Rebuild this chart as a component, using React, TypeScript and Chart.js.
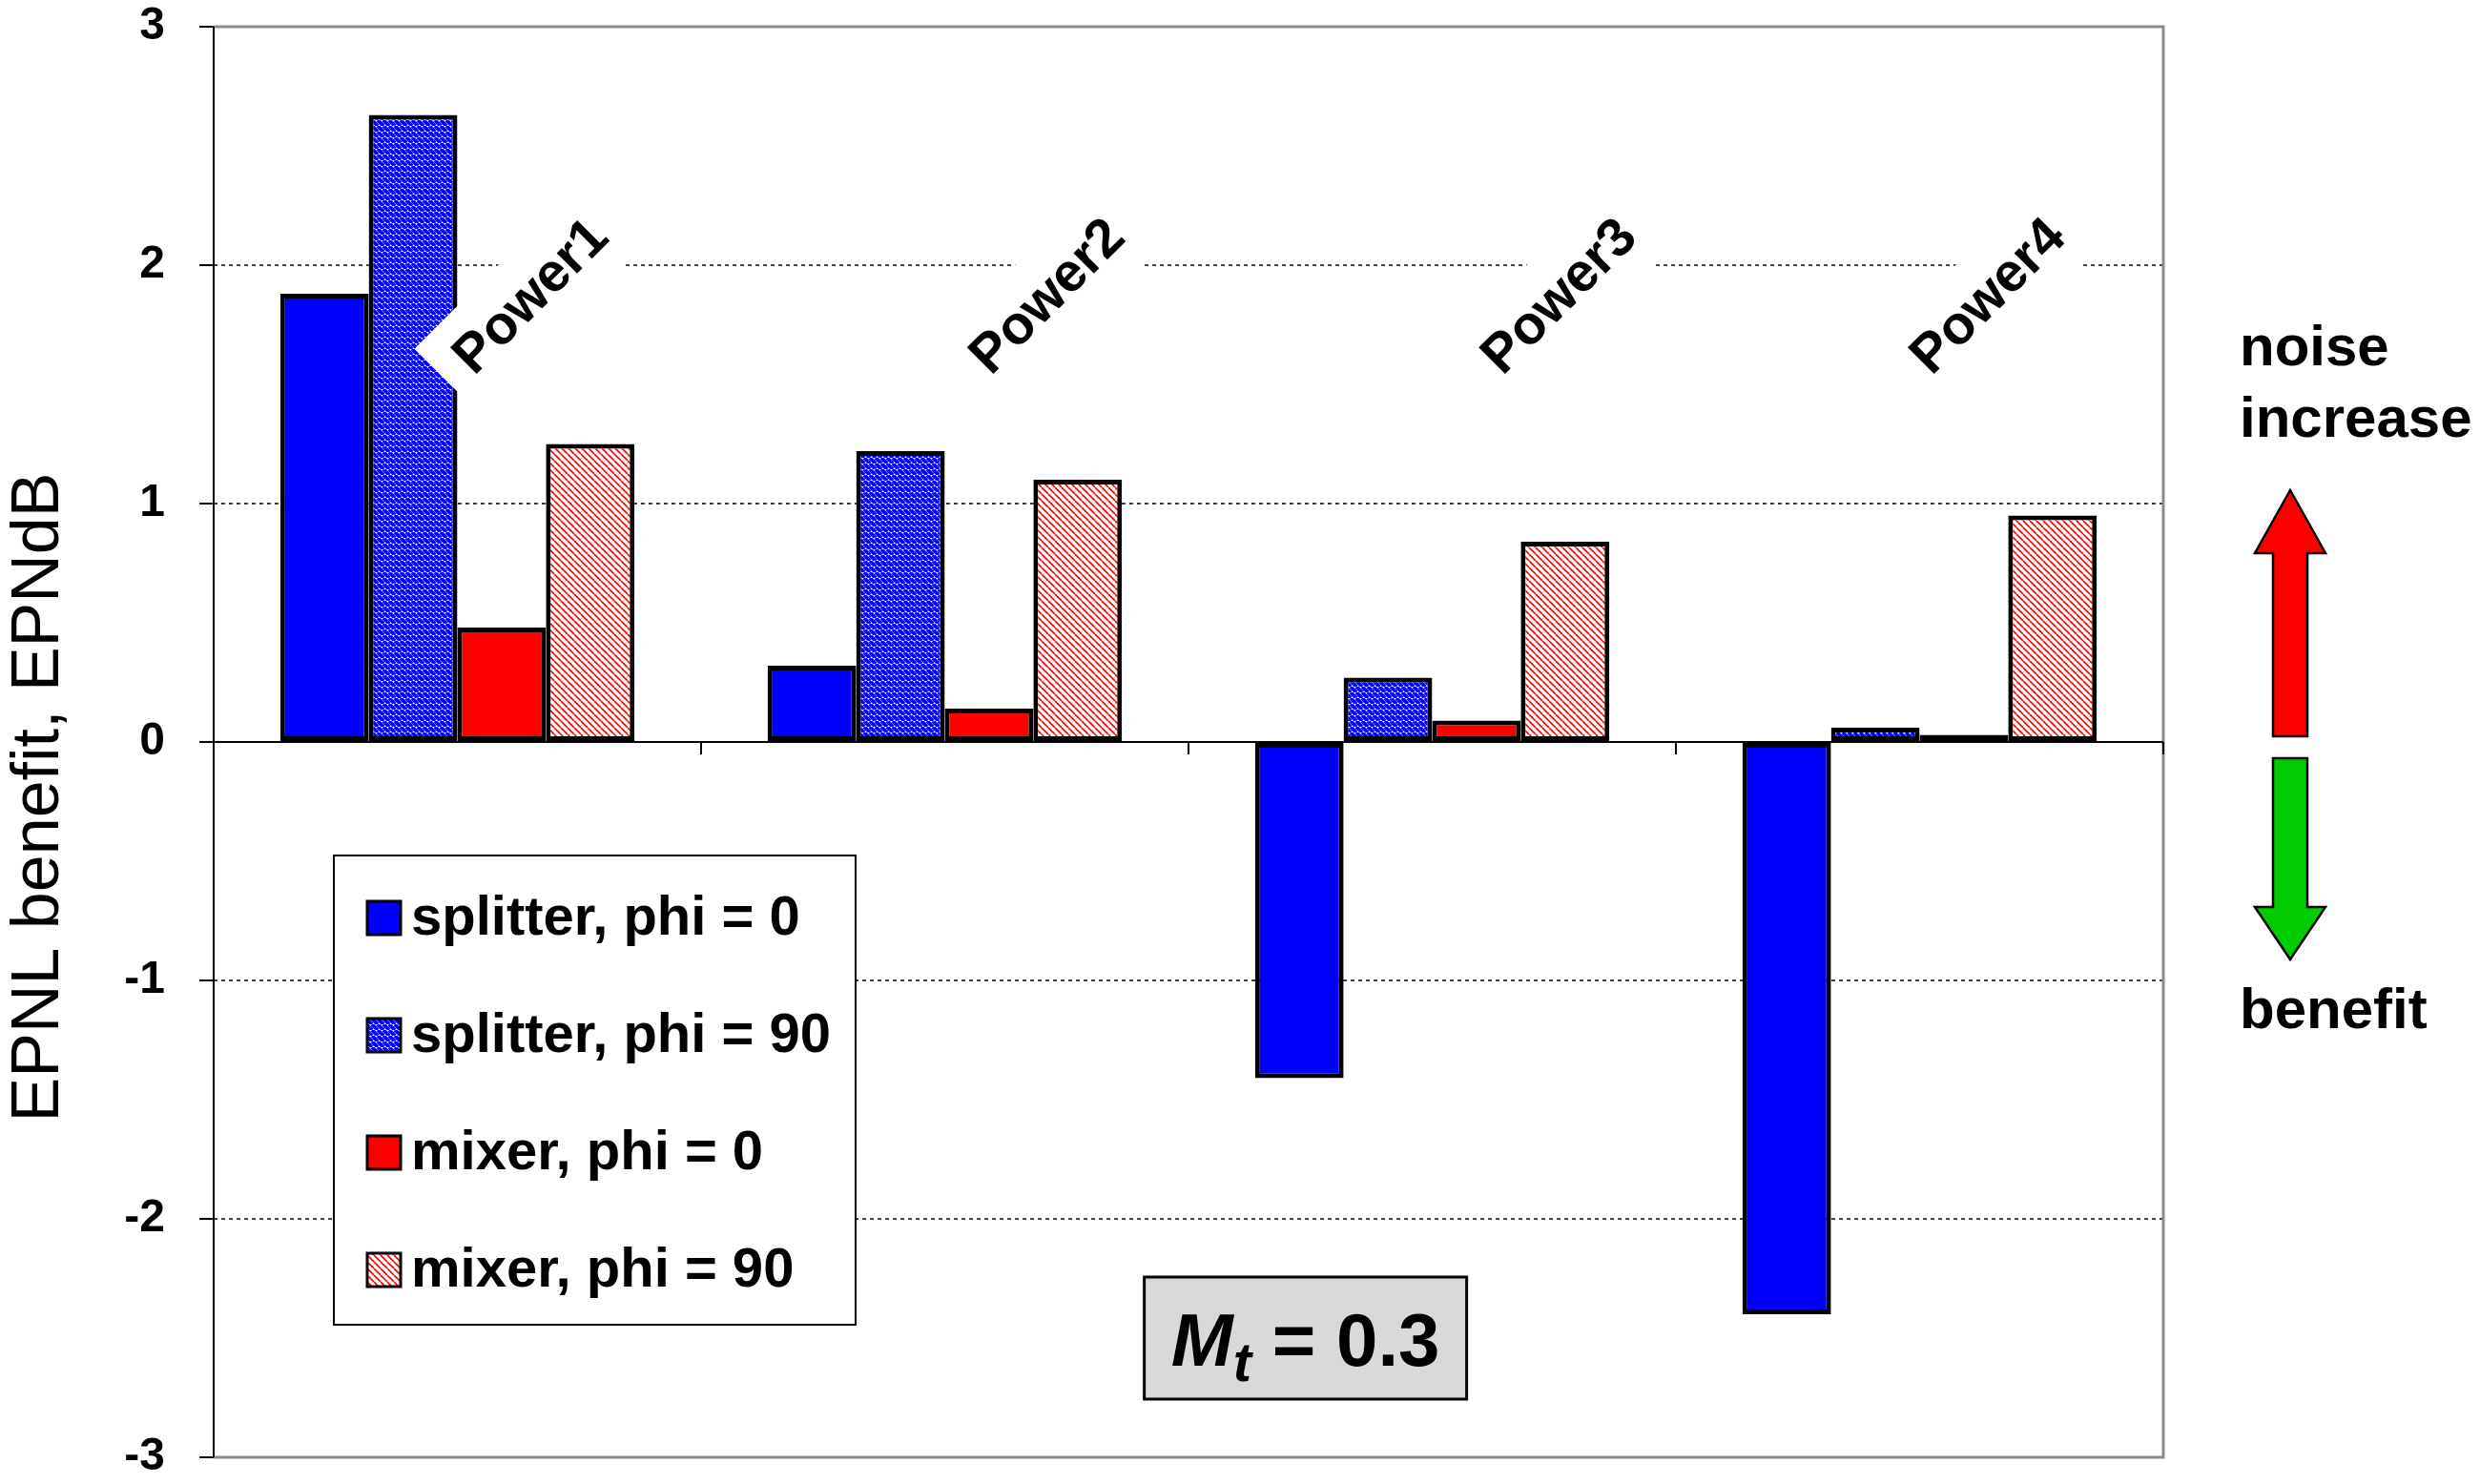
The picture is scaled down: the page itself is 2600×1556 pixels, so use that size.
import { useEffect, useRef } from 'react';
import { Chart, registerables } from 'chart.js';

Chart.register(...registerables);

const categories = ['Power1', 'Power2', 'Power3', 'Power4'];
const seriesNames = ['splitter, phi = 0', 'splitter, phi = 90', 'mixer, phi = 0', 'mixer, phi = 90'];
const splitterPhi0 = [1.88, 0.32, -1.41, -2.4];
const splitterPhi90 = [2.63, 1.22, 0.27, 0.06];
const mixerPhi0 = [0.48, 0.14, 0.09, 0.03];
const mixerPhi90 = [1.25, 1.1, 0.84, 0.95];
const yTicks = [-3, -2, -1, 0, 1, 2, 3];

const FONT = '"Liberation Sans", Arial, sans-serif';

// diagonal "\" hatch on white
function hatch(color: string, lineWidth: number, size: number) {
  const c = document.createElement('canvas');
  c.width = size;
  c.height = size;
  const g = c.getContext('2d')!;
  g.fillStyle = '#fff';
  g.fillRect(0, 0, size, size);
  g.strokeStyle = color;
  g.lineWidth = lineWidth;
  g.beginPath();
  for (const k of [-size, 0, size]) {
    g.moveTo(k, 0);
    g.lineTo(k + size, size);
  }
  g.stroke();
  return g.createPattern(c, 'repeat')!;
}

function arrow(ctx: CanvasRenderingContext2D, cx: number, tail: number, tip: number, headLen: number, color: string) {
  const dir = tip < tail ? -1 : 1;
  const base = tip - dir * headLen;
  const sw = 18;
  const hw = 37;
  ctx.beginPath();
  ctx.moveTo(cx - sw, tail);
  ctx.lineTo(cx - sw, base);
  ctx.lineTo(cx - hw, base);
  ctx.lineTo(cx, tip);
  ctx.lineTo(cx + hw, base);
  ctx.lineTo(cx + sw, base);
  ctx.lineTo(cx + sw, tail);
  ctx.closePath();
  ctx.fillStyle = color;
  ctx.fill();
  ctx.strokeStyle = '#000';
  ctx.lineWidth = 2.5;
  ctx.stroke();
}

// where the rotated category names sit: shift inside the category, and y value
const labelShift = [0.15, 0.21, 0.26, 0.14];
const labelLevel = 1.87;

const decorations = {
  id: 'decorations',
  beforeDatasetsDraw(chart: any) {
    const { ctx, chartArea: a, scales } = chart;
    const x = scales.x;
    const y = scales.y;
    const y0 = y.getPixelForValue(0);
    ctx.save();
    ctx.strokeStyle = '#8c8c8c';
    ctx.lineWidth = 3;
    ctx.beginPath();
    ctx.moveTo(a.left, a.top);
    ctx.lineTo(a.right, a.top);
    ctx.lineTo(a.right, a.bottom);
    ctx.lineTo(a.left, a.bottom);
    ctx.stroke();

    ctx.strokeStyle = '#000';
    ctx.lineWidth = 2;
    ctx.beginPath();
    ctx.moveTo(a.left, y0);
    ctx.lineTo(a.right, y0);
    for (let i = 0; i < categories.length; i++) {
      const px = x.getPixelForValue(i + 0.5);
      ctx.moveTo(px, y0);
      ctx.lineTo(px, y0 + 13);
    }
    ctx.moveTo(a.left, a.top);
    ctx.lineTo(a.left, a.bottom);
    ctx.stroke();
    ctx.restore();
  },
  afterDatasetsDraw(chart: any) {
    const { ctx, chartArea: a, scales } = chart;
    const x = scales.x;
    const y = scales.y;
    ctx.save();

    // category names with white knock-out box
    categories.forEach((name, i) => {
      const cx = x.getPixelForValue(i + labelShift[i]);
      const cy = y.getPixelForValue(labelLevel);
      ctx.save();
      ctx.translate(cx, cy);
      ctx.rotate(-Math.PI / 4);
      ctx.fillStyle = '#fff';
      ctx.fillRect(-125, -47, 250, 94);
      ctx.fillStyle = '#000';
      ctx.font = `bold 57px ${FONT}`;
      ctx.textAlign = 'center';
      ctx.textBaseline = 'middle';
      ctx.fillText(name, 0, 2);
      ctx.restore();
    });

    // legend box
    const lx = a.left + 126;
    const ly = 897;
    ctx.fillStyle = '#fff';
    ctx.fillRect(lx, ly, 547, 492);
    ctx.strokeStyle = '#000';
    ctx.lineWidth = 2;
    ctx.strokeRect(lx, ly, 547, 492);
    chart.data.datasets.forEach((ds: any, k: number) => {
      const ry = ly + 65 + k * 123;
      ctx.fillStyle = ds.backgroundColor;
      ctx.fillRect(lx + 35, ry - 17, 35, 35);
      ctx.lineWidth = 3;
      ctx.strokeStyle = '#000';
      ctx.strokeRect(lx + 35, ry - 17, 35, 35);
      ctx.fillStyle = '#000';
      ctx.font = `bold 58px ${FONT}`;
      ctx.textAlign = 'left';
      ctx.textBaseline = 'middle';
      ctx.fillText(ds.label, lx + 81, ry + 2);
    });

    // Mt box
    const bx = x.getPixelForValue(1.74);
    const by = y.getPixelForValue(-2.5);
    ctx.fillStyle = '#d9d9d9';
    ctx.fillRect(bx - 169, by - 64, 338, 128);
    ctx.lineWidth = 3;
    ctx.strokeStyle = '#000';
    ctx.strokeRect(bx - 169, by - 64, 338, 128);
    ctx.textBaseline = 'alphabetic';
    ctx.textAlign = 'left';
    const fM = `italic bold 78px ${FONT}`;
    const fT = `italic bold 58px ${FONT}`;
    const fR = `bold 78px ${FONT}`;
    ctx.font = fM;
    const wM = ctx.measureText('M').width;
    ctx.font = fT;
    const wT = ctx.measureText('t').width;
    ctx.font = fR;
    const rest = ' = 0.3';
    const wR = ctx.measureText(rest).width;
    let tx = bx - (wM + wT + wR) / 2;
    const base = by + 29;
    ctx.fillStyle = '#000';
    ctx.font = fM;
    ctx.fillText('M', tx, base);
    tx += wM;
    ctx.font = fT;
    ctx.fillText('t', tx, base + 16);
    tx += wT;
    ctx.font = fR;
    ctx.fillText(rest, tx, base);
    ctx.restore();
  },
  afterDraw(chart: any) {
    const { ctx, chartArea: a } = chart;
    ctx.save();
    // y title
    ctx.save();
    ctx.translate(61, 836);
    ctx.rotate(-Math.PI / 2);
    ctx.font = `70px ${FONT}`;
    ctx.fillStyle = '#000';
    ctx.textAlign = 'center';
    ctx.textBaseline = 'alphabetic';
    ctx.fillText('EPNL benefit, EPNdB', 0, 0);
    ctx.restore();

    // right side note
    const rx = a.right + 80;
    ctx.font = `bold 60px ${FONT}`;
    ctx.fillStyle = '#000';
    ctx.textAlign = 'left';
    ctx.textBaseline = 'alphabetic';
    ctx.fillText('noise', rx, 383);
    ctx.fillText('increase', rx, 458);
    ctx.fillText('benefit', rx, 1078);
    arrow(ctx, rx + 53, 772, 514, 66, '#ff0000');
    arrow(ctx, rx + 53, 795, 1006, 55, '#00cc00');
    ctx.restore();
  },
};

export default function App() {
  const canvasRef = useRef<HTMLCanvasElement>(null);
  const chartRef = useRef<Chart | null>(null);

  useEffect(() => {
    document.body.style.margin = '0';
    if (!canvasRef.current) return;
    if (chartRef.current) chartRef.current.destroy();

    const blueHatch = hatch('#0000ff', 3.8, 6);
    const redHatch = hatch('#ff0000', 1.6, 7);
    const series = [splitterPhi0, splitterPhi90, mixerPhi0, mixerPhi90];
    const fills: any[] = ['#0000ff', blueHatch, '#ff0000', redHatch];

    chartRef.current = new Chart(canvasRef.current, {
      type: 'bar',
      data: {
        labels: categories,
        datasets: series.map((d, k) => ({
          label: seriesNames[k],
          data: d,
          backgroundColor: fills[k],
          borderColor: '#000',
          borderWidth: 5,
          borderSkipped: false,
          barPercentage: 1,
          categoryPercentage: 0.727,
        })),
      },
      options: {
        responsive: true,
        maintainAspectRatio: false,
        animation: false,
        events: [],
        layout: { padding: { left: 0, top: 28, right: 332, bottom: 28 } },
        plugins: {
          legend: { display: false },
          tooltip: { enabled: false },
        },
        scales: {
          x: { display: false },
          y: {
            min: -3,
            max: 3,
            afterBuildTicks: (s: any) => {
              s.ticks = yTicks.map((v) => ({ value: v }));
            },
            afterFit: (s: any) => {
              s.width = 224;
              s.paddingTop = 0;
              s.paddingBottom = 0;
            },
            ticks: {
              color: '#000',
              padding: 36,
              font: { family: FONT, size: 48, weight: 'bold' },
            },
            grid: {
              color: (c: any) => (c.tick && Math.abs(c.tick.value) > 0 && Math.abs(c.tick.value) < 3 ? '#404040' : 'transparent'),
              lineWidth: 2,
              drawTicks: true,
              tickLength: 15,
              tickColor: '#000',
              tickWidth: 2,
            },
            border: { display: false, dash: [4, 4] },
          },
        },
      },
      plugins: [decorations],
    });

    return () => {
      if (chartRef.current) {
        chartRef.current.destroy();
        chartRef.current = null;
      }
    };
  }, []);

  return (
    <div style={{ width: 2600, height: 1556, position: 'relative', background: '#fff' }}>
      <canvas ref={canvasRef}></canvas>
    </div>
  );
}
